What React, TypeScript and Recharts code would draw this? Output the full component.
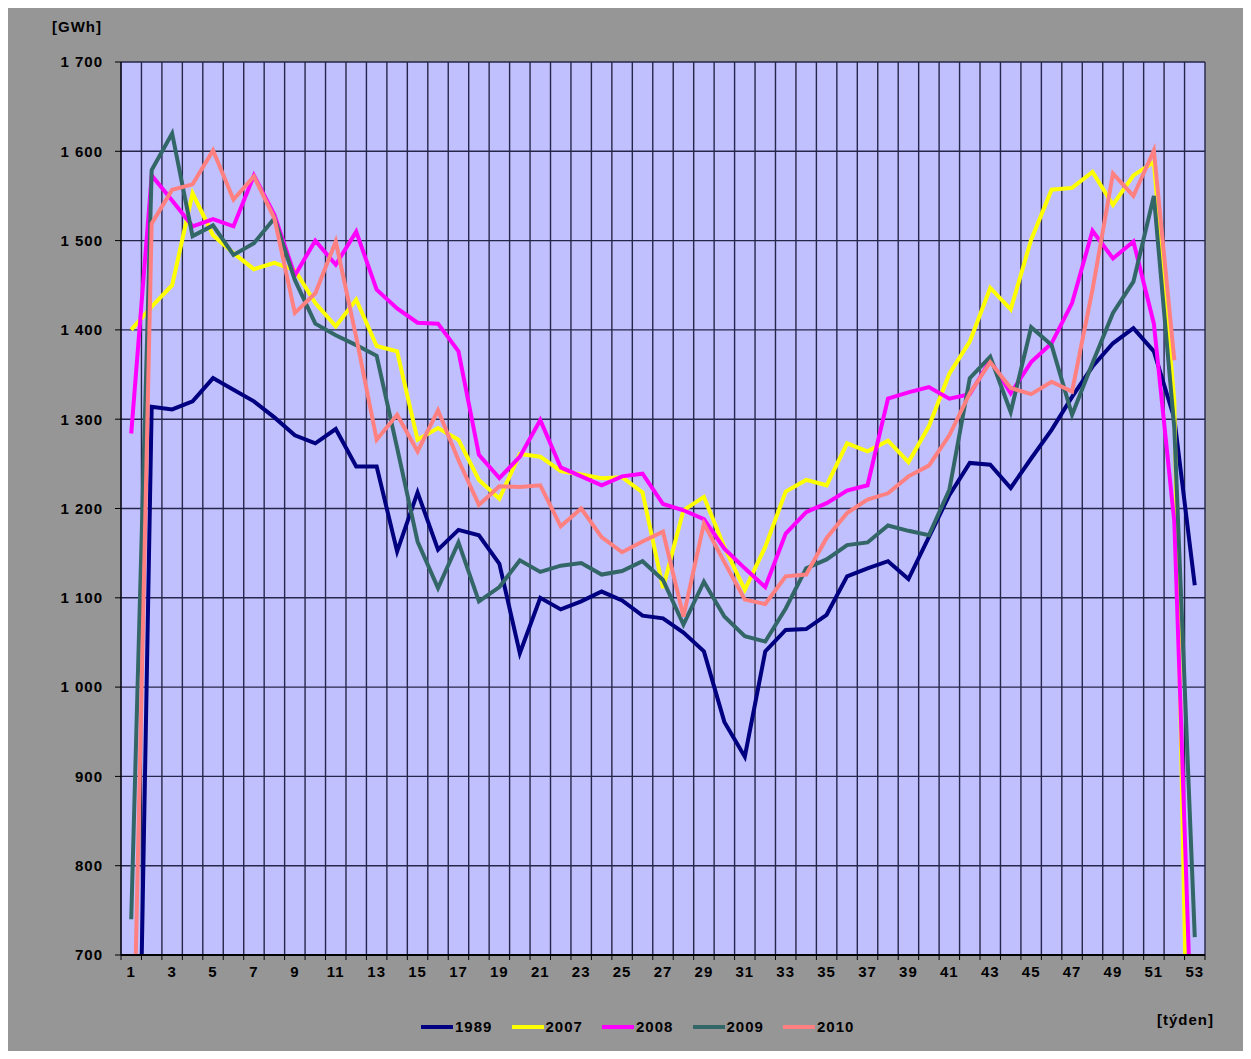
import React from 'react';
import { LineChart, Line, XAxis, YAxis, CartesianGrid, Legend } from 'recharts';

// weekly consumption [GWh], weeks 1..53
const WEEKS = Array.from({ length: 53 }, (_, i) => i + 1);

const Y1989 = [50, 1314, 1311, 1320, 1346, 1333, 1320, 1302, 1282, 1273, 1289, 1247, 1247, 1152, 1218, 1154, 1176, 1170, 1138, 1038, 1100, 1087, 1096, 1107, 1097, 1080, 1077, 1061, 1040, 961, 922, 1040, 1064, 1065, 1081, 1124, 1133, 1141, 1121, 1168, 1215, 1251, 1249, 1223, 1256, 1288, 1325, 1359, 1385, 1402, 1376, 1301, 1114];
const Y2007 = [1400, 1426, 1450, 1553, 1506, 1486, 1468, 1475, 1467, 1430, 1404, 1434, 1382, 1376, 1277, 1290, 1277, 1232, 1211, 1261, 1258, 1242, 1238, 1234, 1235, 1218, 1111, 1198, 1213, 1157, 1109, 1157, 1219, 1232, 1226, 1273, 1264, 1276, 1252, 1292, 1351, 1387, 1447, 1423, 1501, 1557, 1559, 1577, 1540, 1573, 1588, 1320, 150];
const Y2008 = [1284, 1573, 1545, 1516, 1524, 1516, 1573, 1529, 1461, 1500, 1473, 1510, 1445, 1424, 1408, 1407, 1376, 1260, 1234, 1258, 1299, 1246, 1236, 1226, 1236, 1239, 1205, 1198, 1188, 1155, 1133, 1112, 1172, 1196, 1206, 1220, 1226, 1323, 1330, 1336, 1323, 1328, 1366, 1329, 1364, 1385, 1430, 1511, 1480, 1499, 1407, 1185, 500];
const Y2009 = [740, 1579, 1620, 1505, 1517, 1484, 1497, 1525, 1456, 1407, 1394, 1383, 1371, 1268, 1163, 1111, 1162, 1096, 1112, 1142, 1129, 1136, 1139, 1126, 1130, 1141, 1120, 1070, 1118, 1079, 1057, 1051, 1088, 1133, 1143, 1159, 1162, 1181, 1175, 1170, 1221, 1346, 1370, 1308, 1403, 1383, 1305, 1363, 1419, 1454, 1550, 1290, 720];
const Y2010 = [465, 1519, 1557, 1563, 1601, 1546, 1572, 1525, 1419, 1441, 1499, 1392, 1277, 1305, 1264, 1310, 1254, 1204, 1225, 1224, 1226, 1180, 1200, 1168, 1151, 1163, 1174, 1079, 1183, 1140, 1098, 1093, 1124, 1126, 1167, 1195, 1210, 1217, 1236, 1248, 1282, 1329, 1364, 1335, 1328, 1342, 1331, 1445, 1575, 1550, 1601, 1366, null];

const Y_TICKS = [700, 800, 900, 1000, 1100, 1200, 1300, 1400, 1500, 1600, 1700];
const X_LABELS = WEEKS.filter((w) => w % 2 === 1);
const X_BOUNDS = [0, ...WEEKS].map((w) => w + 0.5);
const X_TICKS = [...X_BOUNDS, ...X_LABELS].sort((a, b) => a - b);

const SERIES = [
  { key: 'y1989', name: '1989', color: '#000080', values: Y1989 },
  { key: 'y2007', name: '2007', color: '#FFFF00', values: Y2007 },
  { key: 'y2008', name: '2008', color: '#FF00FF', values: Y2008 },
  { key: 'y2009', name: '2009', color: '#336666', values: Y2009 },
  { key: 'y2010', name: '2010', color: '#FF8080', values: Y2010 },
];

const data = WEEKS.map((w, i) => {
  const row: Record<string, number | null> = { week: w };
  SERIES.forEach((s) => { row[s.key] = s.values[i]; });
  return row;
});

const FONT = "'Liberation Sans', Arial, Helvetica, sans-serif";
const textStyle = { fontFamily: FONT, fontWeight: 'bold' as const, fontSize: 15, letterSpacing: 1, color: '#000' };

const fmtGWh = (v: number) =>
  v >= 1000 ? `${Math.floor(v / 1000)} ${String(v % 1000).padStart(3, '0')}` : String(v);

// boundary ticks get a short mark, odd weeks get the label
const XTick = (props: any) => {
  const { x, y, payload } = props;
  const v = payload.value as number;
  if (!Number.isInteger(v)) {
    return <line x1={x} y1={y} x2={x} y2={y + 5} stroke="#000" strokeWidth={1} />;
  }
  return (
    <text x={x} y={y + 22} textAnchor="middle" fill="#000" fontFamily={FONT} fontWeight="bold" fontSize={15} letterSpacing={1}>
      {v}
    </text>
  );
};

const renderLegend = (props: any) => (
  <div style={{ display: 'flex', alignItems: 'center' }}>
    {(props.payload || []).map((p: any) => (
      <div key={p.value} style={{ display: 'flex', alignItems: 'center', width: 90.5 }}>
        <span style={{ display: 'inline-block', width: 32, height: 4, background: p.color }} />
        <span style={{ ...textStyle, marginLeft: 2, lineHeight: '18px' }}>{p.value}</span>
      </div>
    ))}
  </div>
);

export default function App() {
  return (
    <div style={{ position: 'relative', width: 1235, height: 1043, background: '#969696' }}>
      <div style={{ ...textStyle, position: 'absolute', left: 0, top: 10, width: 94, textAlign: 'right', lineHeight: '18px' }}>
        [GWh]
      </div>
      <div style={{ ...textStyle, position: 'absolute', left: 0, top: 1003, width: 1206, textAlign: 'right', lineHeight: '18px' }}>
        [týden]
      </div>
      <LineChart width={1235} height={1043} data={data} margin={{ top: 54, right: 38, left: 0, bottom: 66 }}>
        <CartesianGrid
          fill="#C0C0FF"
          fillOpacity={1}
          stroke="#26264a"
          strokeWidth={1.4}
          horizontalValues={Y_TICKS}
          verticalValues={X_BOUNDS}
        />
        <XAxis
          type="number"
          dataKey="week"
          domain={[0.5, 53.5]}
          ticks={X_TICKS}
          interval={0}
          tick={<XTick />}
          tickLine={false}
          tickSize={0}
          tickMargin={0}
          height={30}
          axisLine={{ stroke: '#000', strokeWidth: 2 }}
        />
        <YAxis
          type="number"
          domain={[700, 1700]}
          ticks={Y_TICKS}
          interval={0}
          allowDataOverflow
          width={113}
          tickSize={6}
          tickMargin={12}
          tickFormatter={fmtGWh}
          tickLine={{ stroke: '#000' }}
          axisLine={{ stroke: '#000' }}
          tick={{ fill: '#000', fontFamily: FONT, fontWeight: 'bold', fontSize: 15, letterSpacing: 1 }}
        />
        <Legend
          layout="horizontal"
          verticalAlign="middle"
          align="center"
          content={renderLegend}
          wrapperStyle={{ top: 1010, left: 413, width: 'auto' }}
        />
        {SERIES.map((s) => (
          <Line
            key={s.key}
            type="linear"
            dataKey={s.key}
            name={s.name}
            stroke={s.color}
            strokeWidth={4}
            dot={false}
            activeDot={false}
            isAnimationActive={false}
          />
        ))}
      </LineChart>
    </div>
  );
}
